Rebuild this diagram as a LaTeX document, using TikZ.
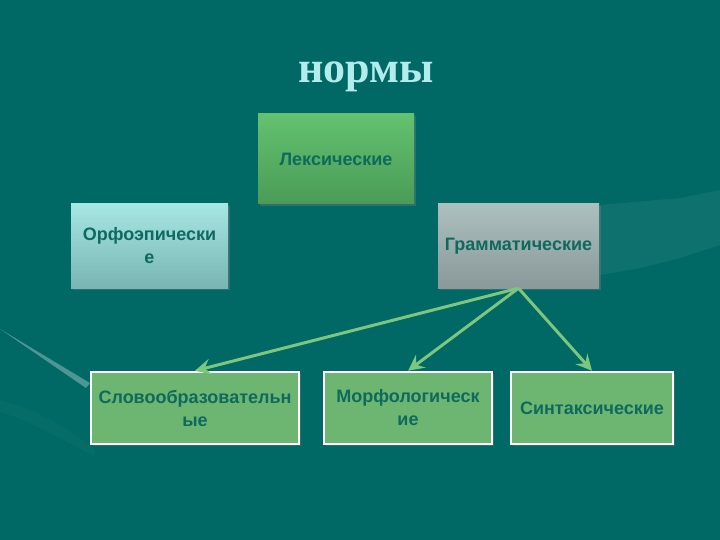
\documentclass[tikz,border=0pt]{standalone}
\usepackage{fontspec}
\setmainfont{Liberation Sans}
\newfontfamily\titlefont{Liberation Serif}
\usetikzlibrary{arrows.meta,shadows}
\definecolor{bgteal}{HTML}{006965}
\definecolor{titlecol}{HTML}{B2ECEC}
\definecolor{boxtext}{HTML}{0E6A5E}
\definecolor{arrowgreen}{HTML}{7CC67E}
\definecolor{leafgreen}{HTML}{6DB671}
\definecolor{lextop}{HTML}{63C270}
\definecolor{lexbot}{HTML}{4A9B56}
\definecolor{orftop}{HTML}{A6E6E3}
\definecolor{orfbot}{HTML}{78B5B3}
\definecolor{gramtop}{HTML}{ACBFBF}
\definecolor{grambot}{HTML}{8A9999}
\begin{document}
\begin{tikzpicture}[x=1pt,y=-1pt,
    normbox/.style={align=center, inner sep=0pt, text=boxtext,
      font=\bfseries\fontsize{18}{23}\selectfont,
      drop shadow={shadow xshift=2pt, shadow yshift=-2pt, opacity=0.35}},
    leafbox/.style={normbox, fill=leafgreen, draw=white, line width=2.5pt,
      minimum height=72pt},
    branch/.style={draw=arrowgreen, line width=3pt, -{Stealth[length=16pt, width=16pt, inset=6pt]}}]
  % background
  \fill[bgteal] (0,0) rectangle (720,540);
  \useasboundingbox (0,0) rectangle (720,540);
  \fill[white, opacity=0.06] (600,205) -- (680,198) -- (720,190) -- (720,245)
    -- (680,258) -- (640,268) -- (600,275) -- cycle;
  \fill[white, opacity=0.3] (0,329) -- (90,383) -- (86,388) -- cycle;
  \fill[white, opacity=0.025] (0,400) .. controls (40,410) and (70,430) .. (95,450)
    -- (95,456) .. controls (60,440) and (30,420) .. (0,412) -- cycle;
  % title
  \node[text=titlecol, font=\titlefont\bfseries\fontsize{44}{48}\selectfont] (title) at (366,77) {нормы};
  % top row
  \node[normbox, minimum width=156pt, minimum height=90pt,
    top color=lextop, bottom color=lexbot] (lex) at (336,159) {Лексические};
  \node[normbox, minimum width=157pt, minimum height=84pt,
    top color=orftop, bottom color=orfbot] (orf) at (149.5,246) {Орфоэпически\\е};
  \node[normbox, minimum width=161pt, minimum height=84pt,
    top color=gramtop, bottom color=grambot] (gram) at (518.5,246) {Грамматические};
  % bottom row
  \node[leafbox, minimum width=208pt] (slovo) at (195,408) {Словообразовательн\\ые};
  \node[leafbox, minimum width=168pt] (morf) at (408,408) {Морфологическ\\ие};
  \node[leafbox, minimum width=162pt] (sint) at (592,408) {Синтаксические};
  % arrows
  \draw[branch] (gram.south) -- (slovo.north);
  \draw[branch] (gram.south) -- (morf.north);
  \draw[branch] (gram.south) -- (sint.north);
\end{tikzpicture}
\end{document}
